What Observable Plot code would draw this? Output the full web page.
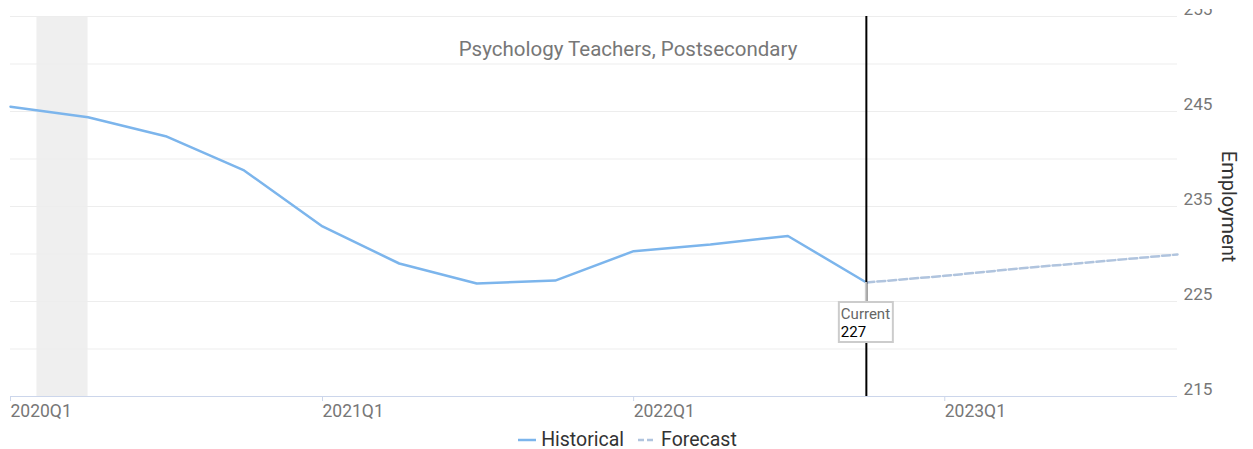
<!DOCTYPE html>
<html>
<head>
<meta charset="utf-8">
<script src="https://cdn.jsdelivr.net/npm/d3@7"></script>
<script src="https://cdn.jsdelivr.net/npm/@observablehq/plot@0.6"></script>
<style>
  body { margin: 0; background: #fff; font-family: Roboto, sans-serif; }
  #chart svg { display: block; clip-path: inset(9px 0 0 0); }
  .legend { display: flex; justify-content: center; align-items: center; height: 21px; margin-top: 1px; width: 1253px; padding-left: 2px; box-sizing: border-box; font-size: 19.5px; color: #333; line-height: 21px; }
  .legend .item { display: flex; align-items: center; }
  .legend .item + .item { margin-left: 14px; }
  .legend svg { margin-right: 5px; }
</style>
</head>
<body>
<div id="chart"></div>
<div class="legend" id="legend"></div>
<script>
// ---- data ----
const histQuarters = ["2020Q1","2020Q2","2020Q3","2020Q4","2021Q1","2021Q2","2021Q3","2021Q4","2022Q1","2022Q2","2022Q3","2022Q4"];
const histValues   = [245.5, 244.4, 242.4, 238.8, 232.9, 229.0, 226.9, 227.2, 230.3, 231.0, 231.9, 227.0];
const fcQuarters   = ["2022Q4","2023Q1","2023Q2","2023Q3","2023Q4"];
const fcValues     = [227.0, 227.7, 228.5, 229.2, 229.95];
const recessionStart = "2020-02-01";
const recessionEnd   = "2020-04-01";
const xTickLabels = ["2020Q1","2021Q1","2022Q1","2023Q1"];
const yTickValues = [215, 225, 235, 245, 255];
const gridValues  = [220, 225, 230, 235, 240, 245, 250, 255];
const xDomainQuarters = ["2020Q1", "2023Q4"];
const yDomain = [215, 255];
const currentQuarter = "2022Q4";
const currentValue = 227;
const titleText = "Psychology Teachers, Postsecondary";
const yLabelText = "Employment";
const currentLabel = "Current";
const legendNames = ["Historical", "Forecast"];

// ---- helpers ----
const q2date = s => new Date(Date.UTC(+s.slice(0, 4), (+s.slice(5) - 1) * 3, 1));
const fmtQ = d => `${d.getUTCFullYear()}Q${Math.floor(d.getUTCMonth() / 3) + 1}`;

const hist = histQuarters.map((q, i) => ({date: q2date(q), value: histValues[i]}));
const fc = fcQuarters.map((q, i) => ({date: q2date(q), value: fcValues[i]}));
const band = [{x1: new Date(recessionStart + "T00:00:00Z"), x2: new Date(recessionEnd + "T00:00:00Z")}];
const currentDate = q2date(currentQuarter);

const histColor = "#7cb5ec";
const fcColor = "#b0c4de";

const tooltip = (index, scales) => {
  const px = scales.x(currentDate), py = scales.y(currentValue);
  const g = d3.create("svg:g").attr("text-anchor", "start");
  g.append("line").attr("x1", px).attr("x2", px).attr("y1", py).attr("y2", py + 20)
    .attr("stroke", "#cccccc").attr("stroke-width", 2);
  g.append("rect").attr("x", px - 27).attr("y", py + 20).attr("width", 54).attr("height", 40)
    .attr("fill", "#fff").attr("stroke", "#cccccc").attr("stroke-width", 2);
  g.append("text").attr("x", px - 25).attr("y", py + 37).attr("fill", "#666").attr("text-anchor", "start")
    .attr("font-size", 15).attr("font-family", "Roboto").text(currentLabel);
  g.append("text").attr("x", px - 25).attr("y", py + 55).attr("fill", "#000").attr("text-anchor", "start")
    .attr("font-size", 15).attr("font-family", "Roboto").text(String(currentValue));
  return g.node();
};

const chart = Plot.plot({
  width: 1253,
  height: 428,
  marginTop: 16,
  marginBottom: 32,
  marginLeft: 10,
  marginRight: 76,
  style: {fontFamily: "Roboto, sans-serif", background: "#fff"},
  x: {type: "utc", domain: xDomainQuarters.map(q2date)},
  y: {domain: yDomain},
  marks: [
    Plot.rect(band, {x1: "x1", x2: "x2", fill: "#efefef"}),
    Plot.gridY(gridValues, {stroke: "#ededed", strokeOpacity: 1, strokeWidth: 1}),
    Plot.ruleY([yDomain[0]], {stroke: "#ccd6eb", strokeWidth: 1}),
    Plot.axisX({ticks: xTickLabels.map(q2date), tickFormat: fmtQ, tickSize: 5, tickPadding: 3,
      stroke: "#ccd6eb", fill: "#777", fontSize: 17.5, textAnchor: "start", label: null}),
    Plot.axisY({anchor: "right", ticks: yTickValues, tickSize: 0, tickPadding: 6, dy: -7,
      fill: "#777", fontSize: 17.2, textAnchor: "start", label: null}),
    Plot.line(hist, {x: "date", y: "value", stroke: histColor, strokeWidth: 2.5}),
    Plot.line(fc, {x: "date", y: "value", stroke: fcColor, strokeWidth: 2.5, strokeDasharray: "8,3"}),
    Plot.ruleX([currentDate], {stroke: "#000", strokeWidth: 2}),
    tooltip,
    Plot.text([titleText], {frameAnchor: "top", dx: 34, dy: 33, fontSize: 20.5, fill: "#777", lineAnchor: "middle"}),
    Plot.text([yLabelText], {frameAnchor: "right", dx: 51, rotate: 90, fontSize: 20, fill: "#333", textAnchor: "middle", lineAnchor: "middle"})
  ]
});
document.getElementById("chart").appendChild(chart);

// ---- legend ----
const legend = d3.select("#legend");
[[legendNames[0], histColor, null], [legendNames[1], fcColor, "6,3"]].forEach(([name, color, dash]) => {
  const item = legend.append("span").attr("class", "item");
  const s = item.append("svg").attr("width", 18).attr("height", 10);
  const l = s.append("line").attr("x1", 0).attr("x2", 18).attr("y1", 5).attr("y2", 5)
    .attr("stroke", color).attr("stroke-width", 2.5);
  if (dash) l.attr("stroke-dasharray", dash);
  item.append("span").text(name);
});
</script>
</body>
</html>
